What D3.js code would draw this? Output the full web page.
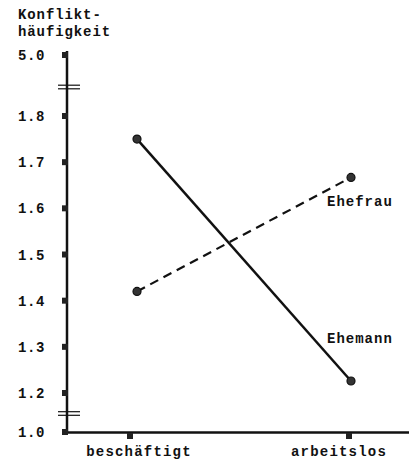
<!DOCTYPE html>
<html>
<head>
<meta charset="utf-8">
<script src="https://cdn.jsdelivr.net/npm/d3@7"></script>
<style>
body { margin: 0; background: #fff; }
text { font-family: "Liberation Mono", "DejaVu Sans Mono", monospace; font-weight: bold; fill: #111; }
</style>
</head>
<body>
<script>
window.onload = function(){

let width = 410,
	height = 462;

// data
let categories = ["beschäftigt", "arbeitslos"];
let ehemann = [1.75, 1.226];
let ehefrau = [1.42, 1.667];
let yTicks = [1.0, 1.2, 1.3, 1.4, 1.5, 1.6, 1.7, 1.8, 5.0];
let seriesNames = ["Ehemann", "Ehefrau"];

let svg = d3.select("body").append("svg").attr("width", width).attr("height", height);

// broken y axis: 1.0 | 1.2 .. 1.8 | 5.0
let y = d3.scaleLinear()
	.domain([1.0, 1.2, 1.8, 5.0])
	.range([432, 393, 116, 55]);

let x = d3.scalePoint()
	.domain(categories)
	.range([130, 349]);

let axisX = 67;

// y axis line
svg.append("line")
	.attr("x1", axisX).attr("x2", axisX)
	.attr("y1", 51).attr("y2", 433)
	.attr("stroke", "#111").attr("stroke-width", 2.5);

// x axis line
svg.append("line")
	.attr("x1", axisX).attr("x2", 409)
	.attr("y1", 432.5).attr("y2", 432.5)
	.attr("stroke", "#111").attr("stroke-width", 2.5);

// y ticks (squares) and labels
svg.selectAll(".ytick").data(yTicks).enter().append("rect")
	.attr("x", axisX - 5).attr("y", d => y(d) - 3)
	.attr("width", 6).attr("height", 6)
	.attr("fill", "#222");

svg.selectAll(".ylab").data(yTicks).enter().append("text")
	.attr("x", 45).attr("y", d => y(d) + 5)
	.attr("text-anchor", "end")
	.attr("font-size", 14).attr("letter-spacing", 0.6)
	.text(d => d.toFixed(1));

// axis breaks
let breakY = [87, 413.5];
breakY.forEach(function(b){
	[-1.8, 1.8].forEach(function(o){
		svg.append("line")
			.attr("x1", 58).attr("x2", 80)
			.attr("y1", b + o).attr("y2", b + o)
			.attr("stroke", "#111").attr("stroke-width", 1.2);
	});
});

// x ticks and labels
svg.selectAll(".xtick").data(categories).enter().append("rect")
	.attr("x", d => x(d) - 3).attr("y", 433)
	.attr("width", 6).attr("height", 6)
	.attr("fill", "#222");

let labelShift = [9, -10];
svg.selectAll(".xlab").data(categories).enter().append("text")
	.attr("x", (d, i) => x(d) + labelShift[i]).attr("y", 456)
	.attr("text-anchor", "middle")
	.attr("font-size", 14).attr("letter-spacing", 1.2)
	.text(d => d);

// y title
svg.append("text").attr("x", 18).attr("y", 19)
	.attr("font-size", 14).attr("letter-spacing", 0.9)
	.text("Konflikt-");
svg.append("text").attr("x", 18).attr("y", 36)
	.attr("font-size", 14).attr("letter-spacing", 0.9)
	.text("häufigkeit");

// lines
let line = d3.line()
	.x((d, i) => x(categories[i]) + (i == 0 ? 7 : 2))
	.y(d => y(d));

svg.append("path").datum(ehemann)
	.attr("fill", "none").attr("stroke", "#111")
	.attr("stroke-width", 2.5).attr("d", line);

svg.append("path").datum(ehefrau)
	.attr("fill", "none").attr("stroke", "#111")
	.attr("stroke-width", 2.2).attr("stroke-dasharray", "9,6")
	.attr("d", line);

[ehemann, ehefrau].forEach(function(s){
	svg.selectAll(null).data(s).enter().append("circle")
		.attr("cx", (d, i) => x(categories[i]) + (i == 0 ? 7 : 2))
		.attr("cy", d => y(d))
		.attr("r", 4)
		.attr("fill", "#333").attr("stroke", "#111").attr("stroke-width", 1.2);
});

// series labels
svg.append("text").attr("x", 327).attr("y", 206)
	.attr("font-size", 14).attr("letter-spacing", 1)
	.text(seriesNames[1]);
svg.append("text").attr("x", 327).attr("y", 343)
	.attr("font-size", 14).attr("letter-spacing", 1)
	.text(seriesNames[0]);

}
</script>
</body>
</html>
